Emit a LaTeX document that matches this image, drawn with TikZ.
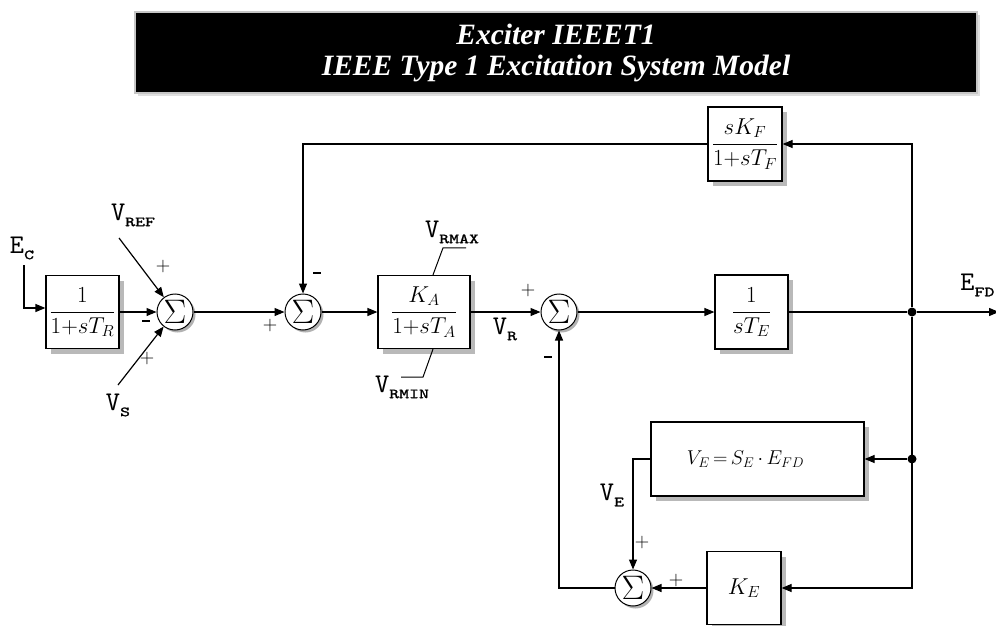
\RequirePackage{fix-cm}
\documentclass[tikz,border=0pt]{standalone}
\usepackage{fontspec}
\usetikzlibrary{arrows.meta,shadows,calc}
\newfontfamily\titlefont{Liberation Serif}
\newfontfamily\labfont{lmmono10-regular.otf}
\newfontfamily\subfont[FakeStretch=1.35,FakeBold=1.5]{lmmono10-regular.otf}
\newcommand\lbl[2]{{\labfont\fontsize{27}{27}\selectfont #1}\raisebox{-6pt}{\subfont\fontsize{14}{14}\selectfont #2}}
\newcommand\mdash{\rule[0.3ex]{8pt}{1.6pt}}
\begin{document}
\begin{tikzpicture}[x=1pt,y=-1pt,
  line width=1.2pt,
  >={Triangle[length=10pt,width=8pt]},
  blk/.style={draw, fill=white, line width=1.2pt, inner sep=0pt,
    drop shadow={shadow xshift=5pt,shadow yshift=-5pt,fill=gray!55,opacity=1},
    font=\fontsize{23}{27}\selectfont},
  sumn/.style={circle, draw, fill=white, line width=1pt, minimum size=36pt, inner sep=0pt,
    drop shadow={shadow xshift=2.5pt,shadow yshift=-2.5pt,fill=gray!60,opacity=1},
    font=\fontsize{34}{34}\selectfont},
  sgn/.style={font=\fontsize{20}{20}\selectfont, inner sep=0pt},
  lab/.style={inner sep=0pt},
  lim/.style={line width=1pt},
  dot/.style={circle, fill=black, minimum size=9pt, inner sep=0pt}]
\useasboundingbox (0,0) rectangle (996,626);
% title
\node[fill=black, draw=gray!45, line width=2pt, minimum width=842pt, minimum height=81pt,
  drop shadow={shadow xshift=3pt,shadow yshift=-3pt,fill=gray!25,opacity=1},
  text=white, font=\titlefont\bfseries\itshape\fontsize{29.5}{31}\selectfont, align=center]
  (title) at (556,52.5) {Exciter IEEET1\\IEEE Type 1 Excitation System Model};
% blocks
\node[blk, minimum width=73pt, minimum height=73pt] (bR) at (82.5,312) {$\displaystyle\frac{1}{1{+}sT_R}$};
\node[blk, minimum width=92pt, minimum height=73pt] (bA) at (424,312) {$\displaystyle\frac{K_A}{1{+}sT_A}$};
\node[blk, minimum width=73pt, minimum height=74pt] (bE) at (751.5,312) {$\displaystyle\frac{1}{sT_E}$};
\node[blk, minimum width=74pt, minimum height=74pt] (bF) at (745,144) {$\displaystyle\frac{sK_F}{1{+}sT_F}$};
\node[blk, minimum width=213pt, minimum height=74pt, font=\fontsize{20}{24}\selectfont] (bVE) at (757.5,459) {\hspace*{-24pt}$V_E\,{=}\,S_E\,{\cdot}\,E_{FD}$};
\node[blk, minimum width=74pt, minimum height=73pt] (bKE) at (744,588) {$K_E$};
% sums
\node[sumn] (s1) at (175,312) {$\Sigma$};
\node[sumn] (s2) at (303,312) {$\Sigma$};
\node[sumn] (s3) at (559,312) {$\Sigma$};
\node[sumn] (s4) at (633,588) {$\Sigma$};
% junctions
\node[dot] (j1) at (912,312) {};
\node[dot] (j2) at (912,459) {};
% free ends
\coordinate (ec) at (24,265);
\coordinate (vref) at (119,238);
\coordinate (vs) at (118,385);
\coordinate (efd) at (999,312);
% labels
\node[lab] (lec) at (22,248) {\lbl{E}{C}};
\node[lab] (lref) at (133,215) {\lbl{V}{REF}};
\node[lab] (lvs) at (118,405) {\lbl{V}{S}};
\node[lab] (lrmax) at (452,232) {\lbl{V}{RMAX}};
\node[lab] (lrmin) at (402,387) {\lbl{V}{RMIN}};
\node[lab] (lvr) at (505,329) {\lbl{V}{R}};
\node[lab, anchor=east] (lfd) at (995,285) {\lbl{E}{FD}};
\node[lab] (lve) at (612,495) {\lbl{V}{E}};
% signs
\node[sgn] (p1) at (163,266) {$+$};
\node[sgn] (m1) at (146,322) {\mdash};
\node[sgn] (p2) at (147,358) {$+$};
\node[sgn] (p3) at (270,325) {$+$};
\node[sgn] (m2) at (317,274) {\mdash};
\node[sgn] (p4) at (528,290) {$+$};
\node[sgn] (m3) at (548,358) {\mdash};
\node[sgn] (p5) at (642,542) {$+$};
\node[sgn] (p6) at (676,580) {$+$};
% limits
\draw[lim] ($(bA.north)+(9,0)$) -- ++(10,-27) -- ++(23,0);
\draw[lim] ($(bA.south)+(9,0)$) -- ++(-10,28) -- ++(-22,0);
% connectors
\draw[->] (ec) |- ($(bR.west)+(0,-4)$);
\draw[->] (bR) -- (s1);
\draw[->] (vref) -- (s1);
\draw[->] (vs) -- (s1);
\draw[->] (s1) -- (s2);
\draw[->] (s2) -- (bA);
\draw[->] (bA) -- (s3);
\draw[->] (s3) -- (bE);
\draw[->] (bE) -- (j1) -- (efd);
\draw[->] (j1) |- (bF.east);
\draw[->] (bF.west) -| (s2.north);
\draw[->] (j1) |- (bKE.east);
\draw[->] (j2) -- (bVE.east);
\draw[->] (bVE.west) -| (s4.north);
\draw[->] (bKE.west) -- (s4.east);
\draw[->] (s4.west) -| (s3.south);
\end{tikzpicture}
\end{document}
